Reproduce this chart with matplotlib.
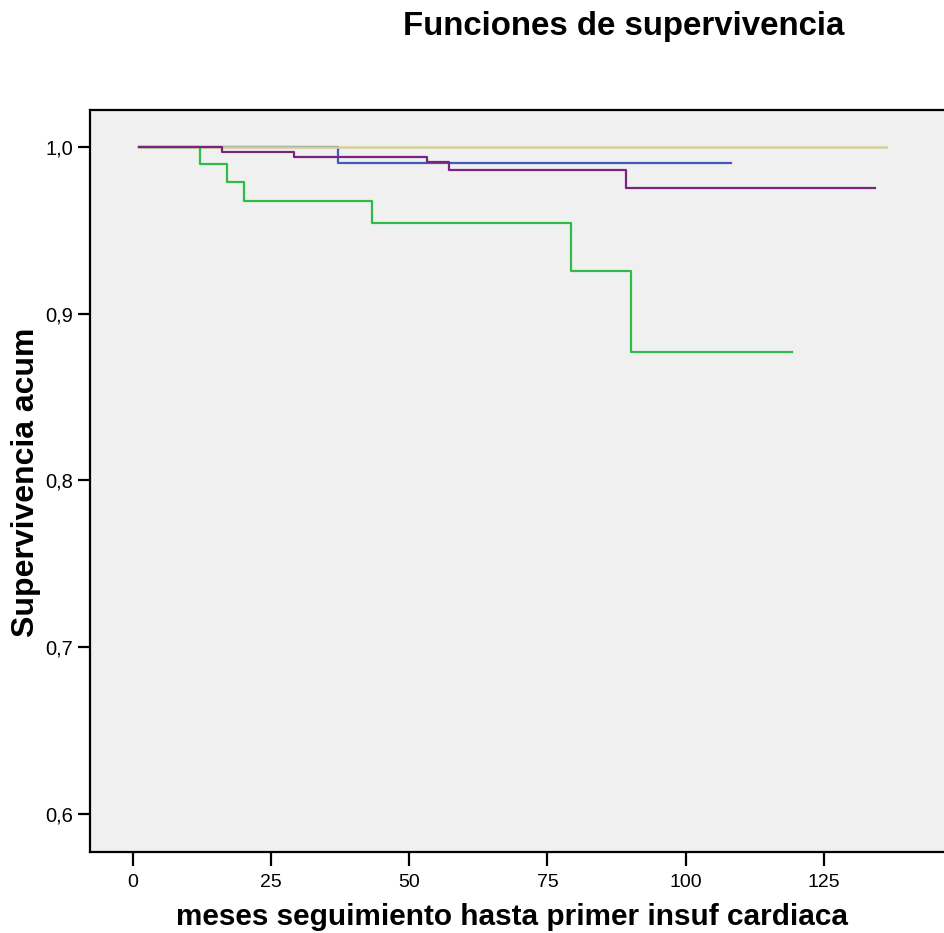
import matplotlib
matplotlib.use("Agg")
import matplotlib.pyplot as plt

plt.rcParams['font.family'] = ['Liberation Sans', 'DejaVu Sans']

# Kaplan-Meier curves: time (months) and cumulative survival, step after each time
green_t = [1.2, 12.1, 17.1, 20.1, 43.2, 79.2, 90.2, 119.2]
green_s = [1.0, 0.9898, 0.9788, 0.9676, 0.9546, 0.9256, 0.8771, 0.8771]
purple_t = [1.2, 16.1, 29.1, 53.2, 57.2, 89.2, 134.3]
purple_s = [1.0, 0.9972, 0.9942, 0.9908, 0.9864, 0.9752, 0.9752]
blue_t = [1.2, 37.1, 108.2]
blue_s = [1.0, 0.9902, 0.9902]
beige_t = [1.2, 136.2]
beige_s = [1.0, 1.0]

x_ticks = [0, 25, 50, 75, 100, 125]
y_ticks = [0.6, 0.7, 0.8, 0.9, 1.0]

fig = plt.figure(figsize=(9.44, 9.33), dpi=100)
ax = fig.add_axes([90 / 944, 1 - 852 / 933, 1 - 90 / 944, (852 - 110) / 933])
ax.set_facecolor('#f0f0f0')

ax.plot(blue_t, blue_s, drawstyle='steps-post', color='#3f5db8', lw=1.6)
ax.plot(beige_t, beige_s, drawstyle='steps-post', color='#d4cf98', lw=1.8)
ax.plot(green_t, green_s, drawstyle='steps-post', color='#2dbd47', lw=1.6)
ax.plot(purple_t, purple_s, drawstyle='steps-post', color='#7a237f', lw=1.6)

ax.set_xlim(-7.7, 146.7)
ax.set_ylim(0.5772, 1.0222)
ax.set_xticks(x_ticks)
ax.set_xticklabels([str(v) for v in x_ticks])
ax.set_yticks(y_ticks)
ax.set_yticklabels([f'{v:.1f}'.replace('.', ',') for v in y_ticks])

for side in ['left', 'bottom', 'top']:
    ax.spines[side].set_linewidth(1.6)
    ax.spines[side].set_color('black')
ax.spines['right'].set_visible(False)

ax.tick_params(axis='x', length=10, width=1.6, labelsize=14, pad=6)
ax.tick_params(axis='y', length=9, width=1.6, labelsize=14.5, pad=3)

fig.text(512 / 944, 1 - 917 / 933, 'meses seguimiento hasta primer insuf cardiaca',
         fontsize=21.4, fontweight='bold', ha='center', va='center')
fig.text(26 / 944, 1 - 482 / 933, 'Supervivencia acum', fontsize=23,
         fontweight='bold', ha='center', va='center', rotation=90)
fig.text(624 / 944, 1 - 27 / 933, 'Funciones de supervivencia', fontsize=23.8,
         fontweight='bold', ha='center', va='center')

fig.savefig('out.png', dpi=100)
